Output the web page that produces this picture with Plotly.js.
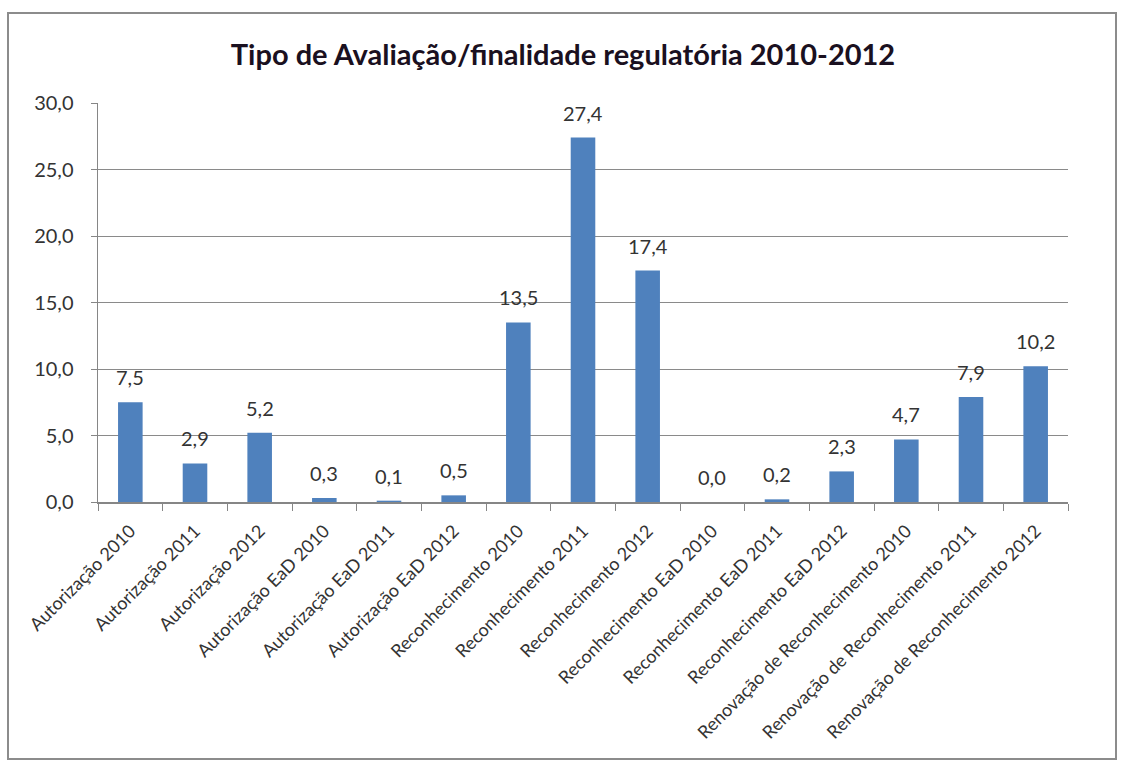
<!DOCTYPE html>
<html><head><meta charset="utf-8">
<script src="https://cdn.plot.ly/plotly-3.0.1.min.js"></script>
<style>
html,body{margin:0;padding:0;background:#fff;}
#wrap{position:relative;width:1126px;height:767px;}
#frame{position:absolute;left:7px;top:12px;width:1110px;height:748px;border:2px solid #8c8c8c;box-sizing:border-box;pointer-events:none;}
#chart{position:absolute;left:0;top:0;width:1126px;height:767px;}
</style>
</head><body>
<div id="wrap"><div id="chart"></div><div id="frame"></div></div>
<script>
const categories = [
  "Autorização 2010","Autorização 2011","Autorização 2012",
  "Autorização EaD 2010","Autorização EaD 2011","Autorização EaD 2012",
  "Reconhecimento 2010","Reconhecimento 2011","Reconhecimento 2012",
  "Reconhecimento EaD 2010","Reconhecimento EaD 2011","Reconhecimento EaD 2012",
  "Renovação de Reconhecimento 2010","Renovação de Reconhecimento 2011","Renovação de Reconhecimento 2012"
];
const values = [7.5, 2.9, 5.2, 0.3, 0.1, 0.5, 13.5, 27.4, 17.4, 0.0, 0.2, 2.3, 4.7, 7.9, 10.2];
const titleText = "Tipo de Avaliação/finalidade regulatória 2010-2012";

const labels = values.map(v => v.toFixed(1).replace('.', ','));
const font = "Lato, 'Open Sans', sans-serif";

const annotations = categories.map((c, i) => ({
  x: c, y: values[i], xref: 'x', yref: 'y',
  text: labels[i], showarrow: false,
  xanchor: 'center', yanchor: 'middle', yshift: 25,
  font: {family: font, size: 20, color: '#333333'}
}));

Plotly.newPlot('chart', [{
  type: 'bar',
  x: categories,
  y: values,
  marker: {color: '#4F81BD'},
  hoverinfo: 'none'
}], {
  width: 1126, height: 767,
  margin: {l: 98, r: 58, t: 103, b: 265},
  paper_bgcolor: '#ffffff', plot_bgcolor: '#ffffff',
  separators: ',.',
  bargap: 0.62,
  showlegend: false,
  annotations: annotations,
  title: {text: '<b>' + titleText + '</b>', x: 0.5, xanchor: 'center', y: 0.928, yanchor: 'middle',
          font: {family: font, size: 29, color: '#1a1020'}},
  xaxis: {
    type: 'category',
    tickangle: -45,
    tickson: 'boundaries',
    ticks: 'outside', ticklen: 7, tickcolor: '#868686', tickwidth: 1,
    ticklabelstandoff: 10,
    showline: true, linecolor: '#868686', linewidth: 1.5,
    showgrid: false,
    tickfont: {family: font, size: 18, color: '#333333'},
    fixedrange: true
  },
  yaxis: {
    range: [0, 30],
    dtick: 5,
    tickformat: '.1f',
    ticks: 'outside', ticklen: 6, tickcolor: '#868686',
    ticklabelstandoff: 13,
    showline: true, linecolor: '#868686', linewidth: 1.5,
    showgrid: true, gridcolor: '#8a8a8a', gridwidth: 1,
    zeroline: false,
    tickfont: {family: font, size: 20, color: '#333333'},
    fixedrange: true
  }
}, {displayModeBar: false, staticPlot: true});
</script>
</body></html>
